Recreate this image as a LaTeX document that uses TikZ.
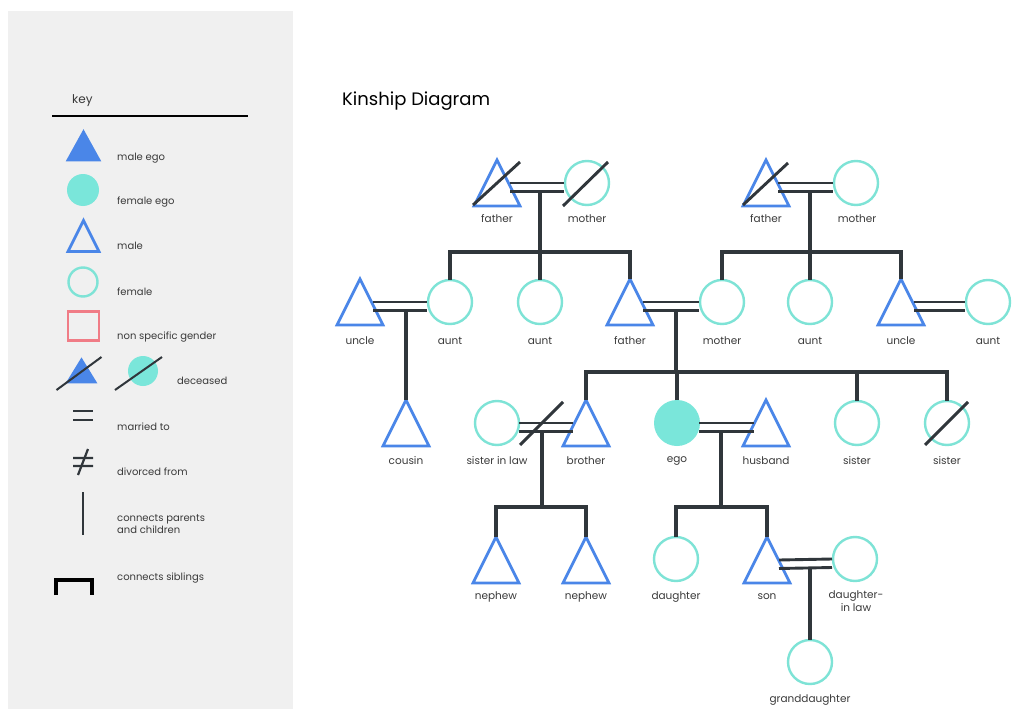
\documentclass[tikz,border=0pt]{standalone}
\usepackage{fontspec}
\setmainfont{Poppins}
\usetikzlibrary{calc}
\definecolor{panel}{HTML}{F0F0F0}
\definecolor{tblue}{HTML}{4A86E8}
\definecolor{ccyan}{HTML}{7EE3D6}
\definecolor{cfill}{HTML}{7AE6DA}
\definecolor{pinky}{HTML}{F07C86}
\definecolor{lnc}{HTML}{30363B}
\definecolor{txt}{HTML}{3A3A3A}
\tikzset{
  tribox/.style={rectangle,inner sep=0pt,outer sep=0pt,minimum width=46,minimum height=46},
  male/.style={tribox,append after command={\pgfextra{\draw[draw=tblue,line width=2.7pt,line join=miter,#1](\tikzlastnode.north)--(\tikzlastnode.south east)--(\tikzlastnode.south west)--cycle;}}},
  male/.default={},
  female/.style={circle,draw=ccyan,line width=2.4pt,minimum size=44,inner sep=0pt,outer sep=0pt},
  ln/.style={draw=lnc,line width=3.4pt,line join=miter},
  mline/.style={draw=lnc,line width=2.9pt},
  slash/.style={draw=lnc,line width=2.9pt},
  lbl/.style={font=\fontsize{10.5}{13}\selectfont,text=txt,inner sep=0pt,align=center},
  key/.style={font=\fontsize{10}{12}\selectfont,text=txt,inner sep=0pt,anchor=west,align=left},
}
\newcommand\marr[4]{% left node, right node, left offset, right offset
  \draw[mline] ($(#1.center)+(#3,0)$) -- ($(#2.center)+(-#4,0)$);
  \draw[mline] ($(#1.center)+(#3,8.5)$) -- ($(#2.center)+(-#4,8.5)$);}
\begin{document}
\begin{tikzpicture}[x=1pt,y=-1pt]
\useasboundingbox (0,0) rectangle (1013,709);
\fill[white] (0,0) rectangle (1013,709);
\fill[panel] (8,11) rectangle (293,709);

% ---------- key ----------
\node[key,font=\fontsize{12}{14}\selectfont] (keyt) at (72,101) {key};
\draw[draw=black,line width=1.8pt] (52,116) -- (248,116);

\node[male={fill=tblue},minimum width=31,minimum height=28] (k1) at (83.5,146) {};
\node[key] (k1t) at (117,158) {male ego};
\node[circle,fill=cfill,minimum size=32,inner sep=0pt] (k2) at (83,190) {};
\node[key] (k2t) at (117,202) {female ego};
\node[male,minimum width=31,minimum height=31] (k3) at (83.5,236) {};
\node[key] (k3t) at (117,246) {male};
\node[female,minimum size=29] (k4) at (83,282) {};
\node[key] (k4t) at (117,292) {female};
\node[rectangle,draw=pinky,line width=2.2pt,minimum width=31,minimum height=29,inner sep=0pt] (k5) at (83.5,326) {};
\node[key] (k5t) at (117,337) {non specific gender};
\node[male={fill=tblue},minimum width=27,minimum height=22] (k6a) at (81.5,371) {};
\draw[slash,line width=2pt] ($(k6a.center)+(-25,19)$) -- ($(k6a.center)+(20,-14)$);
\node[circle,fill=cfill,minimum size=30,inner sep=0pt] (k6b) at (143,371) {};
\draw[slash,line width=2pt] ($(k6b.center)+(-28,19)$) -- ($(k6b.center)+(19,-14)$);
\node[key] (k6t) at (177,381) {deceased};
\coordinate (k7) at (83,415);
\draw[draw=lnc,line width=2.8pt] ($(k7)+(-10,-4)$) -- ($(k7)+(10,-4)$) ($(k7)+(-10,5)$) -- ($(k7)+(10,5)$);
\node[key] (k7t) at (117,427) {married to};
\coordinate (k8) at (83,462);
\draw[draw=lnc,line width=2.2pt] ($(k8)+(-10,-4)$) -- ($(k8)+(10,-4)$) ($(k8)+(-10,4)$) -- ($(k8)+(10,4)$) ($(k8)+(-5,13)$) -- ($(k8)+(5,-13)$);
\node[key] (k8t) at (117,472) {divorced from};
\coordinate (k9a) at (83,492);
\coordinate (k9b) at (83,535);
\draw[draw=lnc,line width=2.2pt] (k9a) -- (k9b);
\node[key,font=\fontsize{10}{12}\selectfont] (k9t) at (117,524) {connects parents\\and children};
\coordinate (k10a) at (56,595);
\coordinate (k10b) at (92,595);
\draw[draw=black,line width=3.6pt,line join=miter] (k10a) |- (74,580) -| (k10b);
\node[key] (k10t) at (117,578) {connects siblings};

% ---------- title ----------
\node[anchor=west,inner sep=0pt,font=\fontsize{18}{22}\selectfont,text=black] (title) at (342,101) {Kinship Diagram};

% ---------- people ----------
\node[male] (gf1) at (497,183) {};
\node[female] (gm1) at (587,183) {};
\node[male] (gf2) at (766,183) {};
\node[female] (gm2) at (856,183) {};

\node[male] (u1) at (360,302) {};
\node[female] (a1) at (450,302) {};
\node[female] (a2) at (540,302) {};
\node[male] (fa) at (630,302) {};
\node[female] (mo) at (722,302) {};
\node[female] (a3) at (810,302) {};
\node[male] (u2) at (901,302) {};
\node[female] (a4) at (988,302) {};

\node[male] (cou) at (406,423) {};
\node[female] (sil) at (497,423) {};
\node[male] (bro) at (586,423) {};
\node[circle,fill=cfill,minimum size=46,inner sep=0pt,outer sep=0pt] (ego) at (677,423) {};
\node[male] (hus) at (766,423) {};
\node[female] (s1) at (857,423) {};
\node[female] (s2) at (947,423) {};

\node[male] (n1) at (496,560) {};
\node[male] (n2) at (586,560) {};
\node[female] (dau) at (676,559) {};
\node[male] (son) at (767,560) {};
\node[female] (dil) at (855,559) {};
\node[female] (gd) at (810,662) {};

% ---------- labels ----------
\node[lbl] (lgf1) at (497,219) {father};
\node[lbl] (lgm1) at (587,219) {mother};
\node[lbl] (lgf2) at (766,219) {father};
\node[lbl] (lgm2) at (857,219) {mother};
\node[lbl] (lu1) at (360,341) {uncle};
\node[lbl] (la1) at (450,341) {aunt};
\node[lbl] (la2) at (540,341) {aunt};
\node[lbl] (lfa) at (630,341) {father};
\node[lbl] (lmo) at (722,341) {mother};
\node[lbl] (la3) at (810,341) {aunt};
\node[lbl] (lu2) at (901,341) {uncle};
\node[lbl] (la4) at (988,341) {aunt};
\node[lbl] (lcou) at (406,461) {cousin};
\node[lbl] (lsil) at (497,461) {sister in law};
\node[lbl] (lbro) at (586,461) {brother};
\node[lbl] (lego) at (677,461) {ego};
\node[lbl] (lhus) at (766,461) {husband};
\node[lbl] (ls1) at (857,461) {sister};
\node[lbl] (ls2) at (947,461) {sister};
\node[lbl] (ln1) at (496,597) {nephew};
\node[lbl] (ln2) at (586,597) {nephew};
\node[lbl] (ldau) at (676,597) {daughter};
\node[lbl] (lson) at (767,597) {son};
\node[lbl,anchor=north] (ldil) at (856,591) {daughter-\\in law};
\node[lbl] (lgd) at (810,700) {granddaughter};

% ---------- marriages ----------
\marr{gf1}{gm1}{13}{23}
\marr{gf2}{gm2}{12}{23}
\marr{u1}{a1}{13}{23}
\marr{fa}{mo}{13}{23}
\marr{u2}{a4}{13}{23}
\marr{sil}{bro}{22}{13}
\marr{ego}{hus}{22}{12}
\marr{son}{dil}{12}{23}
% divorce slash
\draw[slash] ($(sil.center)+(23,22)$) -- ($(sil.center)+(66,-21)$);

% deceased slashes
\draw[slash] ($(gf1.center)+(-24,22)$) -- ($(gf1.center)+(23,-21)$);
\draw[slash] ($(gm1.center)+(-24,23)$) -- ($(gm1.center)+(21,-21)$);
\draw[slash] ($(gf2.center)+(-23,22)$) -- ($(gf2.center)+(22,-20)$);
\draw[slash] ($(s2.center)+(-22,22)$) -- ($(s2.center)+(21,-21)$);

% ---------- descent ----------
\coordinate (m1) at (540,191.5);
\coordinate (j1) at (540,252);
\draw[ln] (m1) -- (j1);
\draw[ln] (a1.north) |- (j1) -| (fa.north);
\draw[ln] (j1) -- (a2.north);

\coordinate (m2) at (810,191.5);
\coordinate (j2) at (810,252);
\draw[ln] (m2) -- (j2);
\draw[ln] (mo.north) |- (j2) -| (u2.north);
\draw[ln] (j2) -- (a3.north);

\coordinate (m3) at (406,310.5);
\draw[ln] (m3) -- (cou.north);

\coordinate (m4) at (676,310.5);
\coordinate (j4) at (676,372);
\draw[ln] (m4) -- (j4);
\draw[ln] (bro.north) |- (j4) -| (s2.north);
\draw[ln] (ego.north) -- (ego.north |- j4);
\draw[ln] (s1.north) -- (s1.north |- j4);

\coordinate (m5) at (542,431.5);
\coordinate (j5) at (542,507);
\draw[ln] (m5) -- (j5);
\draw[ln] (n1.north) |- (j5) -| (n2.north);

\coordinate (m6) at (721,431.5);
\coordinate (j6) at (721,507);
\draw[ln] (m6) -- (j6);
\draw[ln] (dau.north) |- (j6) -| (son.north);

\coordinate (m7) at (810,567.5);
\draw[ln] (m7) -- (gd.north);
\end{tikzpicture}
\end{document}
